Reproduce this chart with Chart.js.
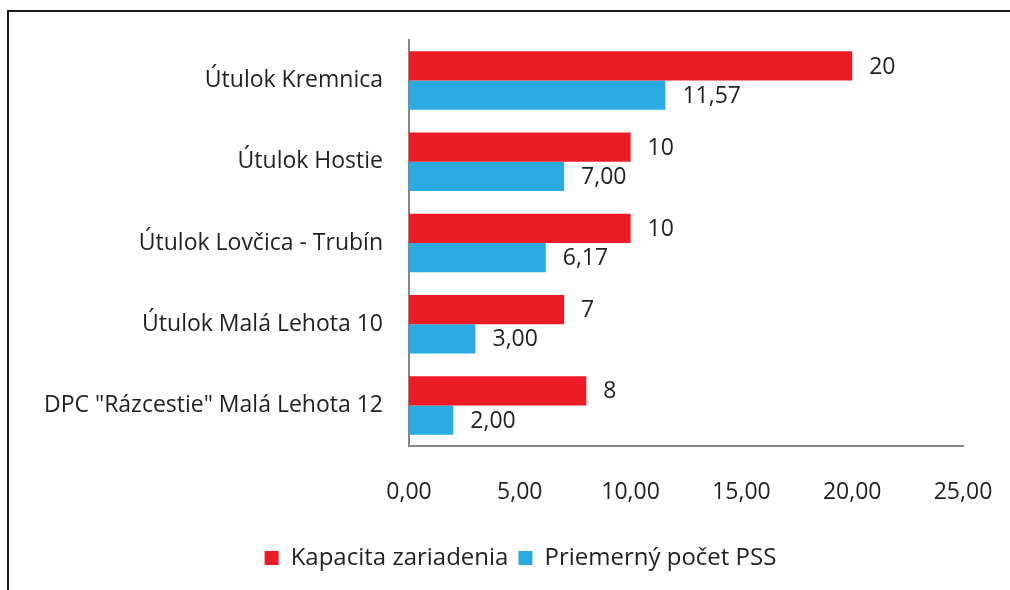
<!DOCTYPE html>
<html>
<head>
<meta charset="utf-8">
<script src="https://cdn.jsdelivr.net/npm/chart.js@4/dist/chart.umd.min.js"></script>
<style>
    body { margin: 0; background: #fff; }
    #wrap { position: relative; width: 1010px; height: 590px; }
    #frame { position: absolute; left: 7px; top: 10px; right: 0; bottom: 0; border-top: 2px solid #1a1a1a; border-left: 2px solid #1a1a1a; }
    canvas { position: absolute; left: 0; top: 0; }
</style>
</head>
<body>
<div id="wrap">
    <div id="frame"></div>
    <canvas id="plot" width="1010" height="590"></canvas>
</div>
<script>
// Dáta grafu
const categories = ['Útulok Kremnica', 'Útulok Hostie', 'Útulok Lovčica - Trubín', 'Útulok Malá Lehota 10', 'DPC "Rázcestie" Malá Lehota 12'];
const kapacita = [20, 10, 10, 7, 8];
const priemer = [11.57, 7.00, 6.17, 3.00, 2.00];
const xTicks = [0, 5, 10, 15, 20, 25];

const textColor = '#231f20';
const fontName = '"Open Sans", sans-serif';
const fontSize = 23;

function comma(v) {
    return v.toFixed(2).replace('.', ',');
}

// vypíše hodnoty za koncom stĺpcov
const barLabels = {
    id: 'barLabels',
    afterDatasetsDraw(chart) {
        const ctx = chart.ctx;
        ctx.save();
        ctx.font = fontSize + 'px ' + fontName;
        ctx.fillStyle = textColor;
        ctx.textAlign = 'left';
        ctx.textBaseline = 'middle';
        chart.data.datasets.forEach((ds, i) => {
            const meta = chart.getDatasetMeta(i);
            meta.data.forEach((bar, j) => {
                const v = ds.data[j];
                const txt = i === 0 ? String(v) : comma(v);
                ctx.fillText(txt, bar.x + 17, bar.y + 1);
            });
        });
        ctx.restore();
    }
};

// legenda je v origináli trochu posunutá doprava
const legendShift = {
    id: 'legendShift',
    afterLayout(chart) {
        chart.legend.left += 24;
        chart.legend.right += 24;
    }
};

new Chart(document.getElementById('plot'), {
    type: 'bar',
    data: {
        labels: categories,
        datasets: [{
            label: 'Kapacita zariadenia',
            data: kapacita,
            backgroundColor: '#ed1c24',
        }, {
            label: 'Priemerný počet PSS',
            data: priemer,
            backgroundColor: '#29abe2',
        }]
    },
    options: {
        indexAxis: 'y',
        responsive: false,
        animation: false,
        categoryPercentage: 0.72,
        barPercentage: 1.0,
        layout: { padding: { left: 30, right: 47, top: 40, bottom: 10 } },
        plugins: {
            legend: {
                position: 'bottom',
                labels: {
                    color: textColor,
                    font: { family: fontName, size: 24 },
                    boxWidth: 14,
                    boxHeight: 14,
                    padding: 10
                }
            },
            tooltip: { enabled: false }
        },
        scales: {
            x: {
                min: 0,
                max: 25,
                afterBuildTicks: scale => { scale.ticks = xTicks.map(v => ({ value: v })); },
                afterFit: scale => {
                    scale.height = 90;
                    scale.paddingLeft = 0;
                    scale.paddingRight = 0;
                },
                grid: { display: false, drawTicks: false },
                border: { display: true, color: '#868686', width: 2 },
                ticks: {
                    padding: 33,
                    color: textColor,
                    font: { family: fontName, size: fontSize },
                    callback: v => comma(v)
                }
            },
            y: {
                afterFit: scale => { scale.width = 379; },
                grid: { display: false, drawTicks: false },
                border: { display: true, color: '#868686', width: 2 },
                ticks: {
                    padding: 26,
                    color: textColor,
                    font: { family: fontName, size: fontSize }
                }
            }
        }
    },
    plugins: [barLabels, legendShift]
});
</script>
</body>
</html>
